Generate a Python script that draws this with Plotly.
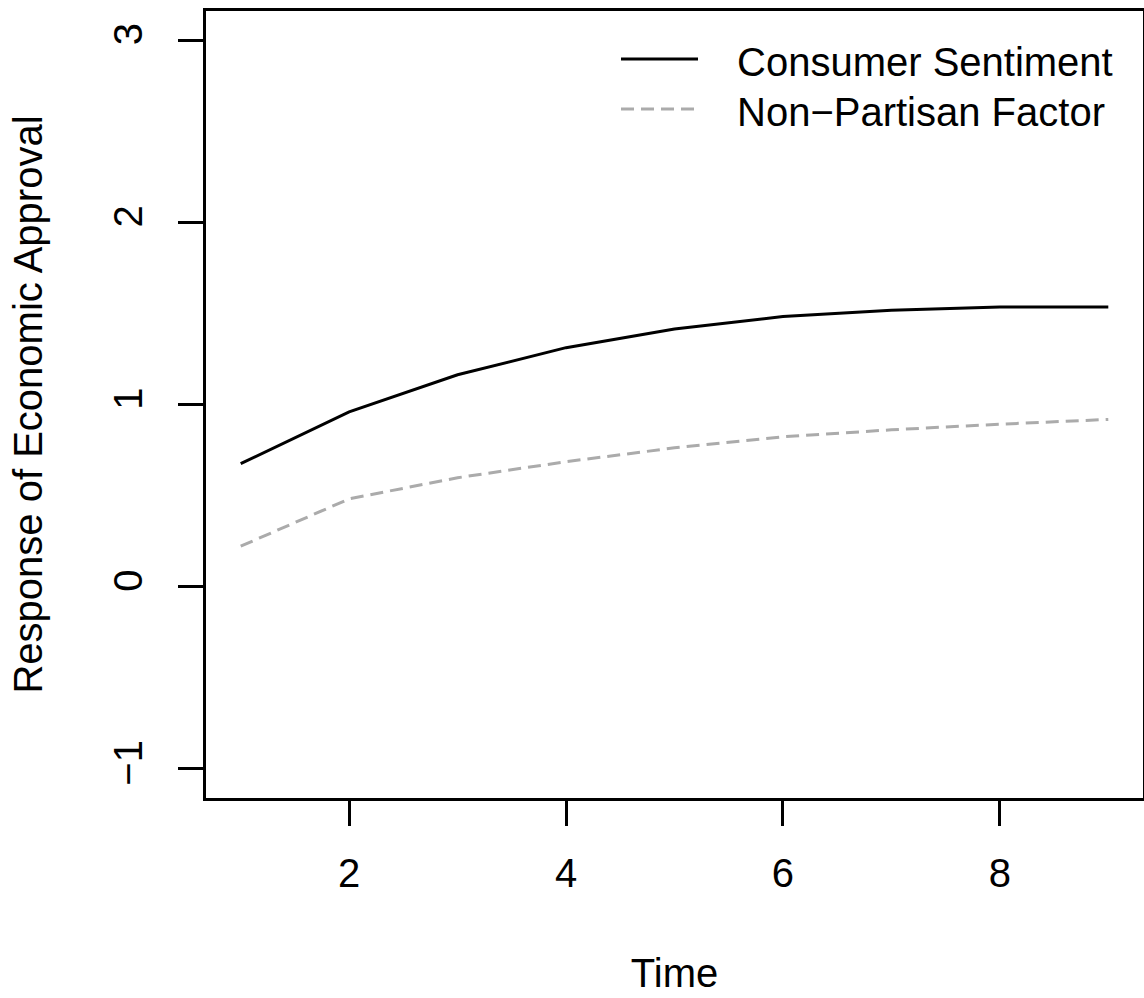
import plotly.graph_objects as go

time = [1, 2, 3, 4, 5, 6, 7, 8, 9]
consumer_sentiment = [0.675, 0.960, 1.163, 1.312, 1.415, 1.483, 1.518, 1.535, 1.535]
non_partisan = [0.222, 0.482, 0.598, 0.686, 0.762, 0.823, 0.861, 0.892, 0.918]
series_names = ["Consumer Sentiment", "Non\u2212Partisan Factor"]
x_ticks = [2, 4, 6, 8]
y_ticks = [-1, 0, 1, 2, 3]

FONT = "Liberation Sans, Arial, Helvetica, sans-serif"
FS = 40
GRAY = "#ABABAB"

fig = go.Figure()
fig.add_trace(go.Scatter(x=time, y=consumer_sentiment, mode="lines",
                         line=dict(color="black", width=3), name=series_names[0],
                         showlegend=False))
fig.add_trace(go.Scatter(x=time, y=non_partisan, mode="lines",
                         line=dict(color=GRAY, width=3, dash="13px,7px"), name=series_names[1],
                         showlegend=False))

W, H = 1144, 998
L, R, T, B = 206, 1, 11, 200
pw, ph = W - L - R, H - T - B

def px2paper(xp, yp):
    return (xp - L) / pw, (H - B - yp) / ph

# manual legend (R style, no box)
for i, (name, col, dash) in enumerate([(series_names[0], "black", "solid"),
                                         (series_names[1], GRAY, "13px,7px")]):
    ypix = 59 + 50 * i
    x0, y0 = px2paper(621, ypix)
    x1, _ = px2paper(698, ypix)
    fig.add_shape(type="line", xref="paper", yref="paper", x0=x0, x1=x1, y0=y0, y1=y0,
                  line=dict(color=col, width=3, dash=dash))
    tx, ty = px2paper(735, ypix + 3)
    fig.add_annotation(xref="paper", yref="paper", x=tx, y=ty, text=name, showarrow=False,
                       xanchor="left", yanchor="middle",
                       font=dict(family=FONT, size=FS, color="black"))

axis_common = dict(showline=True, linecolor="black", linewidth=2.5, mirror=True,
                   ticks="outside", ticklen=25, tickwidth=2.5, tickcolor="black",
                   showgrid=False, zeroline=False,
                   tickfont=dict(family=FONT, size=FS, color="black"))

fig.update_xaxes(range=[0.68, 9.32], tickvals=x_ticks,
                 title=dict(text="Time", font=dict(family=FONT, size=FS, color="black"), standoff=66),
                 ticklabelstandoff=13,
                 **axis_common)
fig.update_yaxes(range=[-1.16, 3.16], tickvals=y_ticks, tickangle=-90,
                 title=dict(text="Response of Economic Approval", font=dict(family=FONT, size=FS, color="black"), standoff=52),
                 ticklabelstandoff=20,
                 **axis_common)

fig.update_layout(width=W, height=H, margin=dict(l=L, r=R, t=T, b=B, autoexpand=False),
                  plot_bgcolor="white", paper_bgcolor="white",
                  font=dict(family=FONT, size=FS, color="black"))

fig.write_html("out.html", config={"displayModeBar": False},
               post_script="document.body.style.margin='0';")
